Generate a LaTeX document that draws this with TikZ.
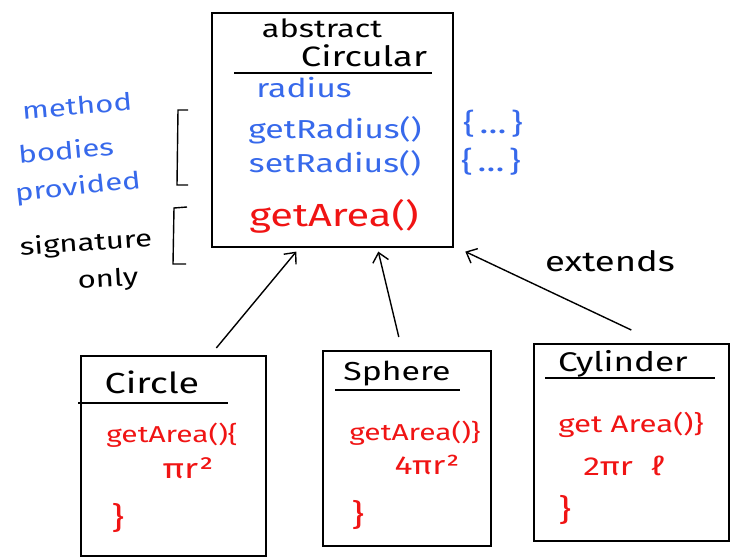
\documentclass[tikz,border=0pt]{standalone}
\usepackage{fontspec}
\setmainfont{Fira Sans}
\newfontfamily\hand[FakeStretch=1.3]{Fira Sans}
\usetikzlibrary{arrows.meta,calc}
\definecolor{inkblue}{RGB}{55,105,235}
\definecolor{inkred}{RGB}{240,20,20}
\newcommand{\fs}[1]{\hand\fontsize{#1}{#1}\selectfont}
\begin{document}
\begin{tikzpicture}[x=1pt,y=-1pt,
  box/.style={draw, line width=1.6pt, anchor=north west, inner sep=0pt},
  rule/.style={line width=1.6pt},
  lbl/.style={inner sep=0pt, font=\fs{26}},
  blue/.style={text=inkblue},
  red/.style={text=inkred},
  ext/.style={line width=1.4pt, -{Straight Barb[length=9pt,width=16pt,line width=1.4pt]}},
  brk/.style={line width=1.4pt}]
\useasboundingbox (0,0) rectangle (740,557);
% main abstract class
\node[box, minimum width=241pt, minimum height=234pt] (circular) at (211,12) {};
\draw[rule] (234,73) -- (432,73);
\node[lbl, font=\fs{25}] (abs) at (322,28) {abstract};
\node[lbl, font=\fs{28}] (cname) at (364,56) {Circular};
\node[lbl, blue] (radius) at (304,88) {radius};
\node[lbl, blue] (getr) at (335,130) {getRadius()};
\node[lbl, blue] (setr) at (335,163) {setRadius()};
\node[lbl, red, font=\fs{32}] (geta) at (334,216) {getArea()};
\node[lbl, blue, font=\fs{28}] (b1) at (493,124) {\{\,…\,\}};
\node[lbl, blue, font=\fs{28}] (b2) at (491,162) {\{\,…\,\}};
% left brackets
\draw[brk] (188,110) -- (178,110) -- (177,185) -- (188,185);
\draw[brk] (187,207) -- (174,208) -- (173,264) -- (186,264);
\node[lbl, blue, font=\fs{24}, rotate=5] (m1) at (77,106) {method};
\node[lbl, blue, font=\fs{24}, rotate=5] (m2) at (66,150) {bodies};
\node[lbl, blue, font=\fs{24}, rotate=6] (m3) at (78,188) {provided};
\node[lbl, font=\fs{24}, rotate=4] (s1) at (86,244) {signature};
\node[lbl, font=\fs{24}, rotate=3] (s2) at (108,280) {only};
\node[lbl, font=\fs{28}] (extends) at (610,261) {extends};
% subclasses
\node[box, minimum width=185pt, minimum height=200pt] (circle) at (80,355) {};
\draw[rule] (78,403) -- (228,403);
\node[lbl, font=\fs{29}] (circlet) at (152,382) {Circle};
\node[lbl, red, font=\fs{23}] (ca) at (172,435) {getArea()\{};
\node[lbl, red, font=\fs{28}] (cf) at (188,468) {πr²};
\node[lbl, red, font=\fs{30}] (cc) at (118,518) {\}};
\node[box, minimum width=168pt, minimum height=195pt] (sphere) at (322,350) {};
\draw[rule] (335,390) -- (460,390);
\node[lbl, font=\fs{26}] (spheret) at (397,374) {Sphere};
\node[lbl, red, font=\fs{23}] (sa) at (415,433) {getArea()\}};
\node[lbl, red, font=\fs{26}] (sf) at (427,465) {4πr²};
\node[lbl, red, font=\fs{30}] (sc) at (358,515) {\}};
\node[box, minimum width=195pt, minimum height=197pt] (cylinder) at (533,343) {};
\draw[rule] (545,378) -- (715,378);
\node[lbl, font=\fs{27}] (cylindert) at (623,364) {Cylinder};
\node[lbl, red, font=\fs{24}] (ya) at (631,425) {get Area()\}};
\node[lbl, red, font=\fs{26}] (yf) at (624,466) {2πr\ \ ℓ};
\node[lbl, red, font=\fs{30}] (yc) at (565,510) {\}};
% inheritance arrows
\draw[ext] ($(circle.north)+(43,-7)$) -- ($(circular.south)+(-36,4)$);
\draw[ext] ($(sphere.north)+(-8,-13)$) -- ($(circular.south)+(46,4)$);
\draw[ext] ($(cylinder.north)+(0,-13)$) -- ($(circular.south)+(133,4)$);
\end{tikzpicture}
\end{document}
